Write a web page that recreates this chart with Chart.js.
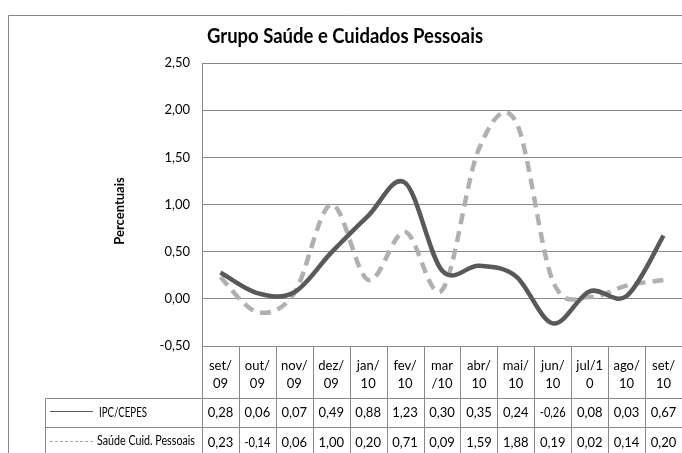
<!DOCTYPE html>
<html>
<head>
<meta charset="utf-8">
<script src="https://cdn.jsdelivr.net/npm/chart.js@4"></script>
<style>
  html, body { margin: 0; padding: 0; background: #fff; }
  #wrap { width: 682px; height: 453px; }
</style>
</head>
<body>
<div id="wrap"><canvas id="myChart" width="682" height="453"></canvas></div>
<script>
// categories (two-line labels as in the data table)
var categories = [
    ['set/', '09'], ['out/', '09'], ['nov/', '09'], ['dez/', '09'], ['jan/', '10'],
    ['fev/', '10'], ['mar', '/10'], ['abr/', '10'], ['mai/', '10'], ['jun/', '10'],
    ['jul/1', '0'], ['ago/', '10'], ['set/', '10']
];
var ipcCepes = [0.28, 0.06, 0.07, 0.49, 0.88, 1.23, 0.30, 0.35, 0.24, -0.26, 0.08, 0.03, 0.67];
var saudeCuid = [0.23, -0.14, 0.06, 1.00, 0.20, 0.71, 0.09, 1.59, 1.88, 0.19, 0.02, 0.14, 0.20];
var seriesNames = ['IPC/CEPES', 'Saúde Cuid. Pessoais'];
var yMin = -0.5, yMax = 2.5, yStep = 0.5;

var FONT = "Lato, 'Liberation Sans', sans-serif";
var GRID = '#888888';

function fmt(v) {
    return v.toFixed(2).replace('.', ',');
}

// Excel-style smoothing: Catmull-Rom control points on the points Chart.js placed
var smoothPlugin = {
    id: 'smoothPlugin',
    beforeDatasetsDraw: function(chart) {
        chart.data.datasets.forEach(function(ds, i) {
            var meta = chart.getDatasetMeta(i);
            var pts = meta.data;
            var n = pts.length;
            for (var k = 0; k < n; k++) {
                var p = pts[k];
                var prev = pts[Math.max(k - 1, 0)];
                var next = pts[Math.min(k + 1, n - 1)];
                var dx = (next.x - prev.x) / 6;
                var dy = (next.y - prev.y) / 6;
                p.cp1x = p.x - dx; p.cp1y = p.y - dy;
                p.cp2x = p.x + dx; p.cp2y = p.y + dy;
            }
            meta.dataset._pointsUpdated = true;
            meta.dataset._path = undefined;
        });
    }
};

// title, axis title, data table and frame
var tablePlugin = {
    id: 'tablePlugin',
    afterDraw: function(chart) {
        var ctx = chart.ctx;
        var x = chart.scales.x;
        var area = chart.chartArea;
        var colW = x.getPixelForValue(1) - x.getPixelForValue(0);
        var top = Math.round(area.bottom) + 0.5;
        var row1 = 398.5, row2 = 427.5, bottom = 460;
        var legLeft = 45.5;

        ctx.save();
        ctx.strokeStyle = GRID;
        ctx.lineWidth = 1;
        ctx.beginPath();
        // horizontal rules
        ctx.moveTo(area.left, top); ctx.lineTo(chart.width, top);
        ctx.moveTo(legLeft, row1); ctx.lineTo(chart.width, row1);
        ctx.moveTo(legLeft, row2); ctx.lineTo(chart.width, row2);
        // vertical rules
        ctx.moveTo(legLeft, row1); ctx.lineTo(legLeft, bottom);
        for (var i = 0; i <= categories.length; i++) {
            var cx = Math.round(x.getPixelForValue(i) - colW / 2) + 0.5;
            ctx.moveTo(cx, top); ctx.lineTo(cx, bottom);
        }
        ctx.stroke();

        // cell text
        ctx.fillStyle = '#000';
        ctx.textAlign = 'center';
        ctx.textBaseline = 'alphabetic';
        ctx.font = '13px ' + FONT;
        for (var j = 0; j < categories.length; j++) {
            var px = x.getPixelForValue(j);
            ctx.fillText(categories[j][0], px, 370, 28);
            ctx.fillText(categories[j][1], px, 388, 28);
            ctx.fillText(fmt(ipcCepes[j]), px, 417, 26);
            ctx.fillText(fmt(saudeCuid[j]), px, 447, 26);
        }

        // legend keys
        ctx.strokeStyle = '#595959';
        ctx.lineWidth = 1;
        ctx.beginPath();
        ctx.moveTo(50, 411.5); ctx.lineTo(93, 411.5);
        ctx.stroke();
        ctx.strokeStyle = '#a6a6a6';
        ctx.setLineDash([3, 2]);
        ctx.beginPath();
        ctx.moveTo(50, 441.5); ctx.lineTo(95, 441.5);
        ctx.stroke();
        ctx.setLineDash([]);
        ctx.textAlign = 'left';
        ctx.font = '12.5px ' + FONT;
        ctx.fillText(seriesNames[0], 99, 417, 48);
        ctx.fillText(seriesNames[1], 97, 445, 98);

        // chart title
        ctx.textAlign = 'center';
        ctx.font = 'bold 20px ' + FONT;
        ctx.fillText('Grupo Saúde e Cuidados Pessoais', 345, 43, 276);

        // y axis title
        ctx.save();
        ctx.translate(124, 211);
        ctx.rotate(-Math.PI / 2);
        ctx.font = 'bold 13px ' + FONT;
        ctx.fillText('Percentuais', 0, 0, 84);
        ctx.restore();

        // outer frame
        ctx.strokeStyle = GRID;
        ctx.lineWidth = 1;
        ctx.beginPath();
        ctx.moveTo(8.5, bottom); ctx.lineTo(8.5, 15.5); ctx.lineTo(chart.width, 15.5);
        ctx.stroke();
        ctx.restore();
    }
};

var ctx = document.getElementById('myChart').getContext('2d');
var myChart = new Chart(ctx, {
    type: 'line',
    data: {
        labels: categories,
        datasets: [{
            label: seriesNames[0],
            data: ipcCepes,
            borderColor: '#595959',
            backgroundColor: '#595959',
            borderWidth: 4.5,
            pointRadius: 0,
            tension: 0.4
        }, {
            label: seriesNames[1],
            data: saudeCuid,
            borderColor: '#b0b0b0',
            backgroundColor: '#b0b0b0',
            borderWidth: 4.5,
            borderDash: [11, 7],
            pointRadius: 0,
            tension: 0.4
        }]
    },
    options: {
        responsive: false,
        animation: false,
        layout: {
            padding: {left: 0, top: 63, right: -2, bottom: 453 - 346}
        },
        scales: {
            x: {
                display: false,
                offset: true
            },
            y: {
                min: yMin,
                max: yMax,
                afterFit: function(scale) { scale.width = 202; },
                ticks: {
                    stepSize: yStep,
                    padding: 12,
                    color: '#000',
                    font: {family: FONT, size: 13},
                    callback: function(v) { return fmt(v); }
                },
                grid: {
                    color: GRID,
                    lineWidth: 1,
                    drawTicks: false
                },
                border: {
                    display: true,
                    color: GRID
                }
            }
        },
        plugins: {
            legend: {display: false},
            title: {display: false},
            tooltip: {enabled: false}
        }
    },
    plugins: [smoothPlugin, tablePlugin]
});
</script>
</body>
</html>
